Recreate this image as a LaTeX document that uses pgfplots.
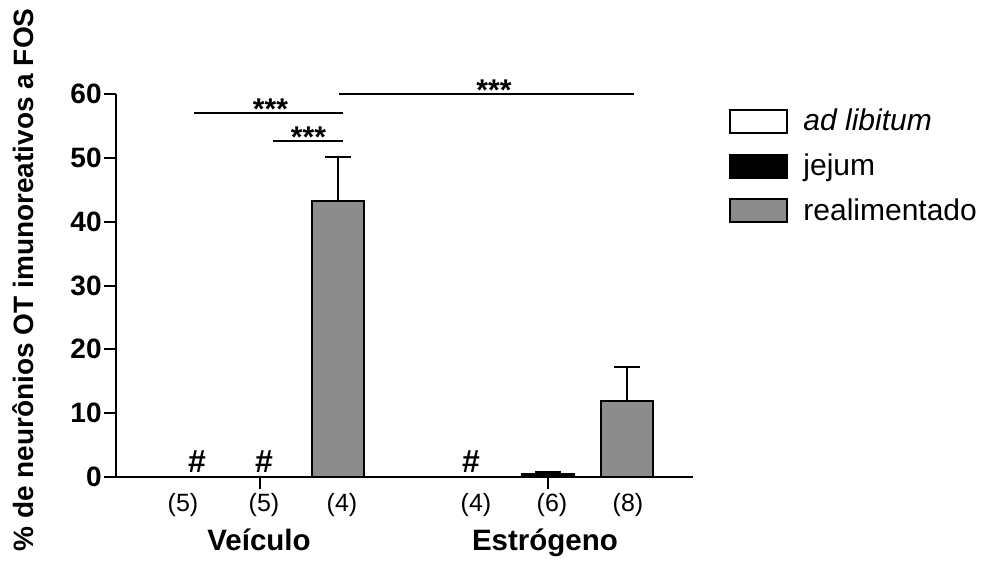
\documentclass[border=0pt]{standalone}
\usepackage{pgfplots}
\pgfplotsset{compat=1.18}
\usepackage{fontspec}
\setmainfont{Liberation Sans}
\newcommand{\fs}[1]{\fontsize{#1}{#1}\selectfont}
\pgfplotsset{boxlegend/.style={legend image code/.code={\draw[##1, line width=1pt] (0pt,-5.75pt) rectangle (28.5pt,5.75pt); \path (34pt,0pt);}}}
\begin{document}
\begin{tikzpicture}
\begin{axis}[
 name=ax,
 scale only axis, width=288.35pt, height=191.5pt,
 xmin=116, xmax=692.7, ymin=0, ymax=60,
 axis lines*=left,
 axis line style={line width=1pt},
 ytick={0,10,...,60},
 xtick={260,548}, xticklabels={},
 tick align=outside, major tick length=6pt,
 every tick/.style={black, line width=1pt},
 yticklabel style={font=\fs{14}\bfseries, inner sep=1pt},
 /pgf/number format/assume math mode=true,
 clip=false,
 ylabel={\% de neurônios OT imunoreativos a FOS},
 every axis y label/.style={at={(rel axis cs:-0.1613,0.5144)}, rotate=90, anchor=center, font=\fs{14}\bfseries},
 legend style={draw=none, fill=none, at={(1.063,0.972)}, anchor=north west, font=\fs{15}, row sep=6pt, inner sep=0pt},
 legend cell align=left,
 every axis plot/.append style={ybar, bar width=52, bar shift=0pt, line width=1pt, draw=black},
]
\addplot[fill=white, boxlegend]
  coordinates {(181,0) (470,0)};
\addlegendentry{\itshape ad libitum}
\addplot[fill=black, boxlegend,
  error bars/.cd, y dir=plus, y explicit,
  error mark options={rotate=90, mark size=6.5pt, line width=1pt},
  error bar style={line width=1pt}]
  coordinates {(260,0) +- (0,0) (548,0.47) +- (0,0.33)};
\addlegendentry{jejum}
\addplot[fill=black!45, boxlegend,
  error bars/.cd, y dir=plus, y explicit,
  error mark options={rotate=90, mark size=6.5pt, line width=1pt},
  error bar style={line width=1pt}]
  coordinates {(338,43.2) +- (0,6.9) (627,11.86) +- (0,5.34)};
\addlegendentry{realimentado}

\draw[line width=1pt] (axis cs:338.7,60) -- (axis cs:634,60);
\node[font=\fs{15}\bfseries, anchor=base] at (axis cs:494,58.95) {***};
\draw[line width=1pt] (axis cs:194,57) -- (axis cs:343.4,57);
\node[font=\fs{15}\bfseries, anchor=base] at (axis cs:270.5,55.95) {***};
\draw[line width=1pt] (axis cs:273.4,52.7) -- (axis cs:343.4,52.7);
\node[font=\fs{15}\bfseries, anchor=base] at (axis cs:308.5,51.65) {***};

\node[font=\fs{16}\bfseries, anchor=base] at (axis cs:197,0.74) {\#};
\node[font=\fs{16}\bfseries, anchor=base] at (axis cs:264,0.74) {\#};
\node[font=\fs{16}\bfseries, anchor=base] at (axis cs:471,0.74) {\#};

\node[font=\fs{12.5}, anchor=base] at (axis cs:183,-5.48) {(5)};
\node[font=\fs{12.5}, anchor=base] at (axis cs:264,-5.48) {(5)};
\node[font=\fs{12.5}, anchor=base] at (axis cs:342,-5.48) {(4)};
\node[font=\fs{12.5}, anchor=base] at (axis cs:476,-5.48) {(4)};
\node[font=\fs{12.5}, anchor=base] at (axis cs:552,-5.48) {(6)};
\node[font=\fs{12.5}, anchor=base] at (axis cs:628,-5.48) {(8)};

\node[font=\fs{14.75}\bfseries, anchor=base] at (axis cs:259,-11.44) {Veículo};
\node[font=\fs{14.75}\bfseries, anchor=base] at (axis cs:545,-11.44) {Estrógeno};
\end{axis}
\pgfresetboundingbox
\path[use as bounding box] ([shift={(-58pt,-43pt)}]ax.south west) rectangle ([shift={(437.5pt,238.5pt)}]ax.south west);
\end{tikzpicture}
\end{document}
